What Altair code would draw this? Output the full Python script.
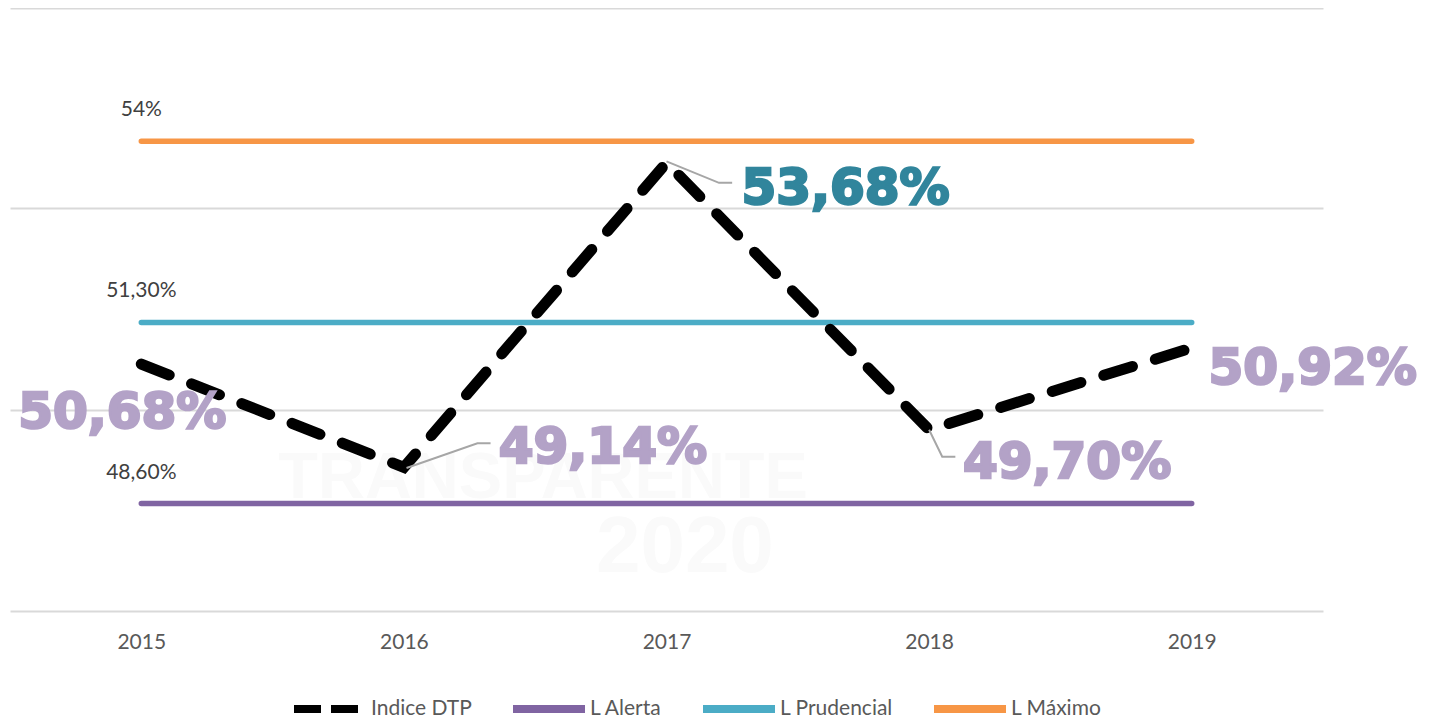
import altair as alt
import pandas as pd

years = [2015, 2016, 2017, 2018, 2019]
indice = [50.68, 49.14, 53.68, 49.70, 50.92]
l_alerta = [48.6] * 5
l_prudencial = [51.3] * 5
l_maximo = [54.0] * 5
grid_values = [47, 50, 53, 55.985]
series_names = ["Indice DTP", "L Alerta", "L Prudencial", "L Máximo"]
series_colors = ["#000000", "#8064a2", "#4bacc6", "#f79646"]
point_labels = ["50,68%", "49,14%", "53,68%", "49,70%", "50,92%"]
limit_labels = ["54%", "51,30%", "48,60%"]
limit_values = [54.0, 51.3, 48.6]

FONT = "Lato"
x_scale = alt.Scale(domain=[2014.5, 2019.5], nice=False, zero=False)
y_scale = alt.Scale(domain=[47, 55.985], nice=False, zero=False)
X = alt.X("year:Q", scale=x_scale, title=None,
          axis=alt.Axis(values=years, format="d", grid=False, domain=False, ticks=False,
                        labelFontSize=21, labelFont=FONT, labelColor="#595959", labelPadding=20))
Y = alt.Y("value:Q", scale=y_scale, title=None,
          axis=alt.Axis(values=grid_values, grid=True, gridColor="#d9d9d9", gridWidth=2,
                        labels=False, domain=False, ticks=False))
legend_opts = dict(orient="none", legendX=280, legendY=661, direction="horizontal",
                   symbolType="stroke", symbolSize=5184, symbolStrokeWidth=8,
                   labelFont=FONT, labelFontSize=21, labelColor="#595959",
                   labelOffset=1, columnPadding=25, labelLimit=300)
color = alt.Color("series:N", title=None,
                  scale=alt.Scale(domain=series_names, range=series_colors),
                  legend=alt.Legend(**legend_opts))
dash = alt.StrokeDash("series:N", title=None,
                      scale=alt.Scale(domain=series_names, range=[[27, 10], [1, 0], [1, 0], [1, 0]]),
                      legend=alt.Legend(**legend_opts))

limits = pd.DataFrame(
    [{"year": y, "value": v, "series": n}
     for n, vals in [("L Alerta", l_alerta), ("L Prudencial", l_prudencial), ("L Máximo", l_maximo)]
     for y, v in zip(years, vals)])
main = pd.DataFrame({"year": years, "value": indice, "series": "Indice DTP"})

wm_x = alt.X("year:Q", scale=x_scale)
wm_y = alt.Y("value:Q", scale=y_scale)
wm1 = alt.Chart(pd.DataFrame({"year": [2016.53], "value": [48.98], "t": ["TRANSPARENTE"]})).mark_text(
    font="Liberation Sans", fontWeight="bold", fontSize=65, color="#fafafa").encode(x=wm_x, y=wm_y, text="t:N")
wm2 = alt.Chart(pd.DataFrame({"year": [2017.07], "value": [47.94], "t": ["2020"]})).mark_text(
    font="Liberation Sans", fontWeight="bold", fontSize=80, color="#fafafa").encode(x=wm_x, y=wm_y, text="t:N")

limit_lines = alt.Chart(limits).mark_line(strokeWidth=5.5, strokeCap="round").encode(
    x=X, y=Y, color=color, strokeDash=dash)
main_line = alt.Chart(main).mark_line(strokeWidth=11, strokeCap="round", strokeDash=[30, 24]).encode(
    x=X, y=Y, color=color)

limit_text = alt.Chart(pd.DataFrame({"year": [2015] * 3, "value": limit_values, "t": limit_labels})).mark_text(
    font=FONT, fontSize=21, color="#404040", dy=-31).encode(x=wm_x, y=wm_y, text="t:N")

leaders = [
    [(2016.01, 49.13), (2016.28, 49.5), (2016.33, 49.5)],
    [(2017.0, 53.7), (2017.2, 53.38), (2017.25, 53.38)],
    [(2018.0, 49.7), (2018.05, 49.3), (2018.1, 49.3)],
]
leader_layers = []
for pts in leaders:
    df = pd.DataFrame({"year": [p[0] for p in pts], "value": [p[1] for p in pts], "o": [0, 1, 2]})
    leader_layers.append(alt.Chart(df).mark_line(color="#a6a6a6", strokeWidth=2).encode(
        x=wm_x, y=wm_y, order="o:Q"))

label_colors = ["#b3a2c7", "#b3a2c7", "#31859c", "#b3a2c7", "#b3a2c7"]
label_offsets = [(-19, 49), (199, -19), (179, 26), (138, 33), (121, 21)]
label_layers = []
for y, v, t, c, (dx, dy) in zip(years, indice, point_labels, label_colors, label_offsets):
    label_layers.append(alt.Chart(pd.DataFrame({"year": [y], "value": [v], "t": [t]})).mark_text(
        font="DejaVu Sans", fontWeight="bold", fontSize=50, color=c, stroke=c, strokeWidth=2.5,
        dx=dx, dy=dy, align="center", baseline="middle").encode(x=wm_x, y=wm_y, text="t:N"))

chart = alt.layer(wm1, wm2, limit_lines, main_line, limit_text, *leader_layers, *label_layers).properties(
    width=1313, height=603,
    autosize=alt.AutoSizeParams(type="none"),
    padding={"left": 2, "top": 0, "right": 100, "bottom": 109},
    background="white",
).configure_view(stroke=None)

chart.save("out.html", embed_options={"renderer": "svg", "actions": False})
